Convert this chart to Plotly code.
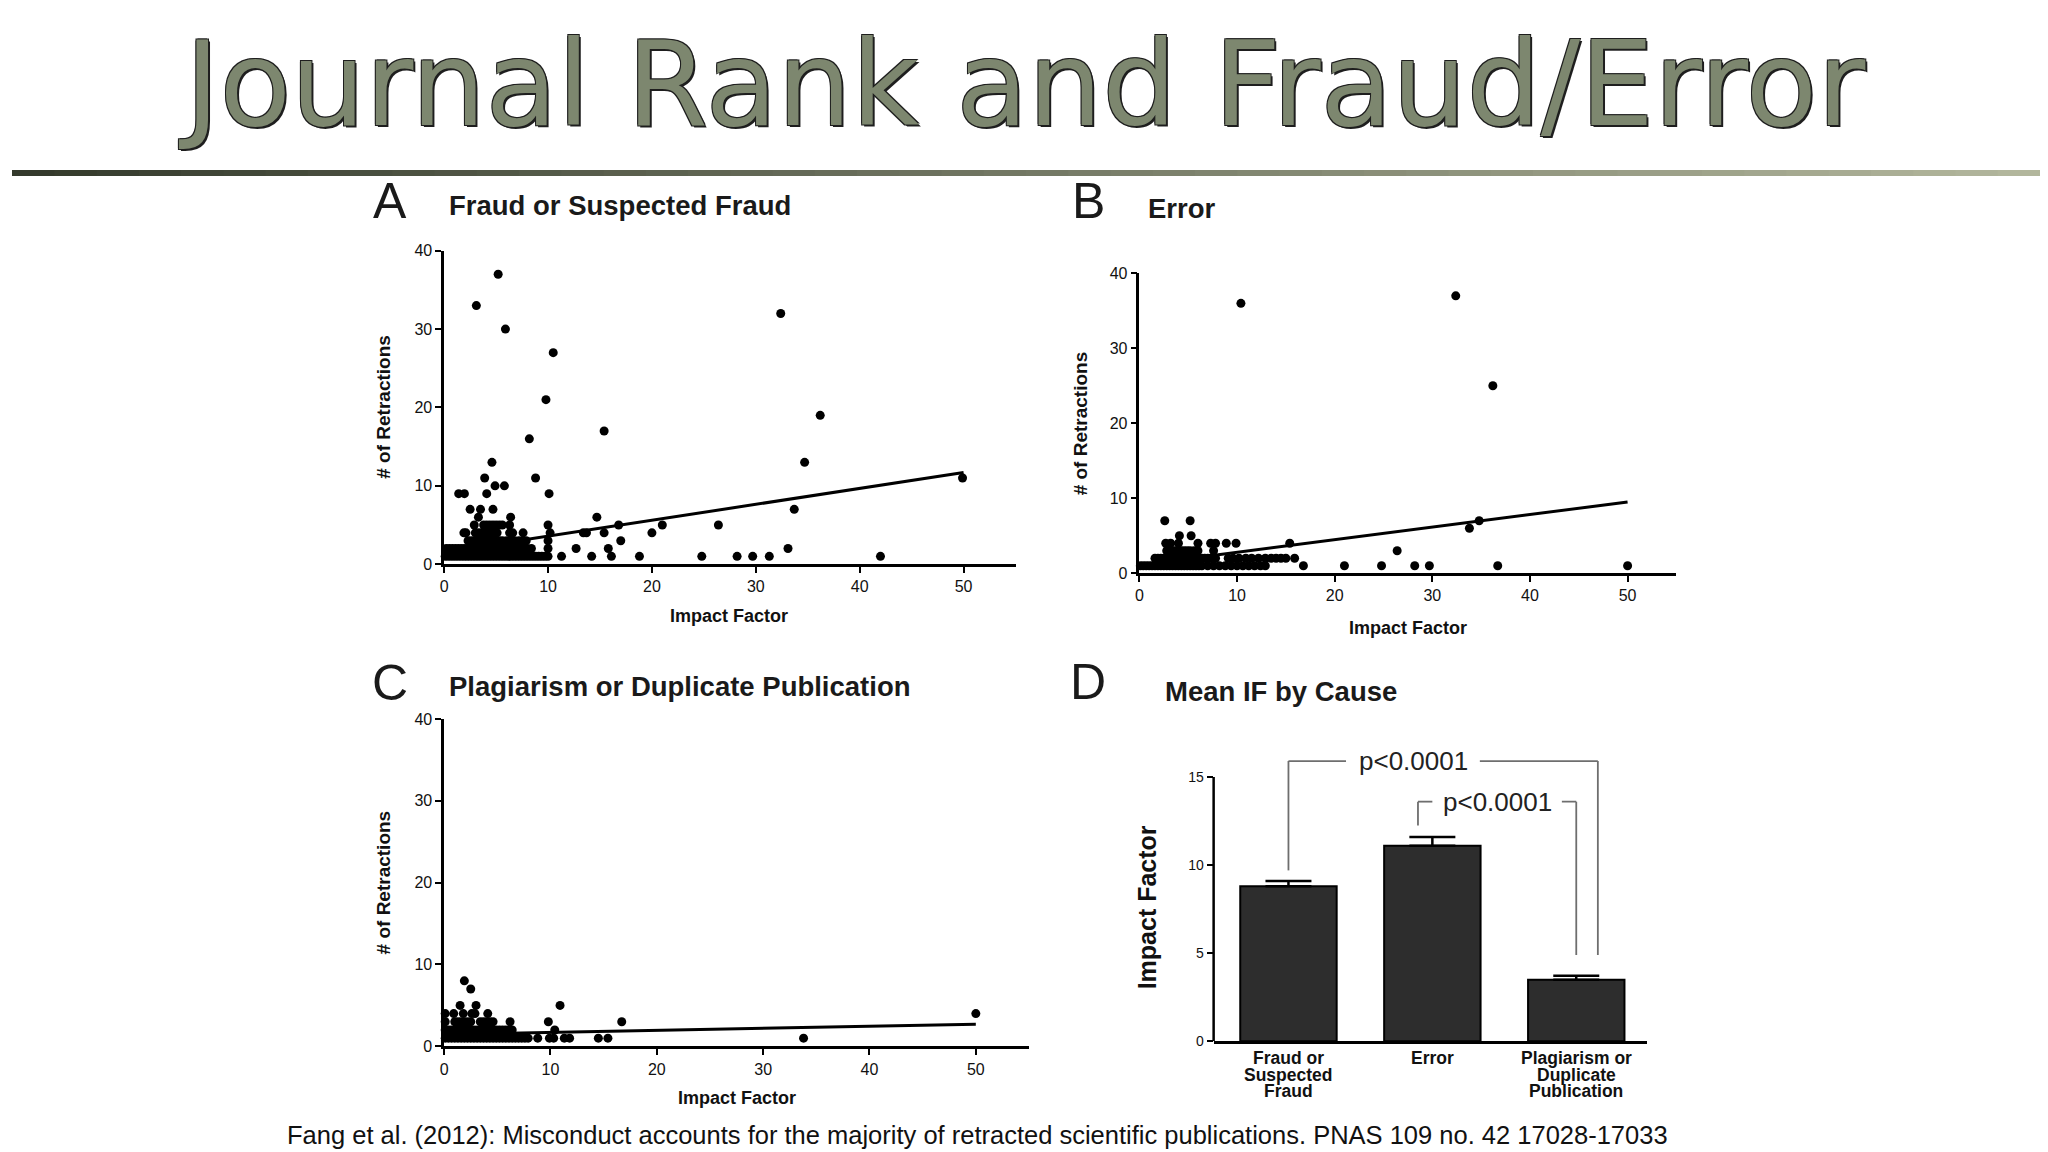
import plotly.graph_objects as go

# the page sits inside an 8px body margin; vertically the capture comes out a bit squeezed,
# so positions below are given in window pixels and converted here
W, H = 2032, 1152
OX = 8
SY, OY = 0.987, 14


def px(x):
    return (x - OX) / W


def py(y):
    return 1 - (y / SY - OY) / H


# ---- data ----
if_ticks = [0, 10, 20, 30, 40, 50]
retr_ticks = [0, 10, 20, 30, 40]

# A: fraud or suspected fraud  (rows of impact factors per retraction count)
fraud_counts = [1, 2, 3, 4, 5, 6, 7, 9, 10, 11, 13, 16, 17, 19, 21, 27, 30, 32, 33, 37]
fraud_if = [
    [0.1, 0.4, 0.7, 1.0, 1.3, 1.6, 1.9, 2.2, 2.5, 2.8, 3.1, 3.4, 3.7, 4.0, 4.3, 4.6, 4.9, 5.2,
     5.5, 5.8, 6.1, 6.4, 6.7, 7.0, 7.3, 7.6, 7.9, 8.2, 8.5, 8.8, 9.1, 9.4, 9.7, 10.0,
     11.3, 14.2, 16.1, 18.8, 24.8, 28.2, 29.7, 31.3, 42.0],
    [0.2, 0.5, 0.8, 1.1, 1.4, 1.7, 2.0, 2.3, 2.6, 2.9, 3.2, 3.5, 3.8, 4.1, 4.4, 4.7, 5.0, 5.3,
     5.6, 5.9, 6.2, 6.5, 6.8, 7.1, 7.4, 7.7, 8.0, 8.4, 10.0, 12.7, 15.8, 33.1],
    [2.3, 2.6, 2.9, 3.2, 3.5, 3.8, 4.1, 4.4, 4.7, 5.0, 5.3, 5.6, 6.0, 6.4, 6.8, 7.2, 7.6, 7.9,
     10.0, 17.0],
    [1.9, 2.1, 3.0, 3.3, 3.6, 3.9, 4.2, 4.5, 4.8, 5.1, 6.3, 6.6, 7.6, 10.2, 13.4, 13.7, 15.4, 20.0],
    [2.9, 3.8, 4.1, 4.4, 4.7, 5.0, 5.3, 5.6, 6.3, 10.0, 16.8, 21.0, 26.4],
    [3.3, 6.4, 14.7],
    [2.5, 3.5, 4.7, 33.7],
    [1.4, 1.95, 4.1, 10.1],
    [4.9, 5.8],
    [3.9, 8.8, 49.9],
    [4.6, 34.7],
    [8.2],
    [15.4],
    [36.2],
    [9.8],
    [10.5],
    [5.9],
    [32.4],
    [3.1],
    [5.2],
]
fraud_fit = [1.55, 11.7]

# B: error
error_counts = [1, 2, 3, 4, 5, 6, 7, 25, 36, 37]
error_if = [
    [0.1, 0.4, 0.7, 1.0, 1.3, 1.6, 1.9, 2.2, 2.5, 2.8, 3.1, 3.4, 3.7, 4.0, 4.3, 4.6, 4.9, 5.2,
     5.5, 5.8, 6.1, 6.4, 7.0, 7.6, 8.2, 8.8, 9.4, 10.0, 10.6, 11.2, 11.8, 12.4, 12.9,
     16.8, 21.0, 24.8, 28.2, 29.7, 36.7, 50.0],
    [1.6, 1.9, 2.2, 2.5, 2.8, 3.1, 3.4, 3.7, 4.0, 4.3, 4.6, 4.9, 5.2, 5.5, 5.8, 6.1, 6.4, 6.7,
     7.0, 7.3, 7.6, 7.8, 9.1, 9.6, 10.2, 10.9, 11.5, 12.2, 12.9, 13.5, 14.0, 14.5, 15.0, 15.9],
    [2.8, 3.1, 3.4, 3.7, 4.0, 4.3, 4.6, 4.9, 5.2, 5.6, 6.0, 7.6, 26.4],
    [2.7, 3.2, 4.0, 6.0, 7.3, 7.8, 8.9, 9.9, 15.4],
    [4.1, 5.3],
    [33.8],
    [2.6, 5.2, 34.8],
    [36.2],
    [10.4],
    [32.4],
]
error_fit = [1.1, 9.5]

# C: plagiarism or duplicate publication
plag_counts = [1, 2, 3, 4, 5, 7, 8]
plag_if = [
    [0.1, 0.4, 0.7, 1.0, 1.3, 1.6, 1.9, 2.2, 2.5, 2.8, 3.1, 3.4, 3.7, 4.0, 4.3, 4.6, 4.9, 5.2,
     5.5, 5.8, 6.1, 6.4, 6.7, 7.0, 7.3, 7.6, 7.9, 8.8, 9.9, 10.3, 11.3, 11.8, 14.5, 15.4, 33.8],
    [0.1, 0.4, 0.7, 1.0, 1.3, 1.6, 1.9, 2.2, 2.5, 2.8, 3.1, 3.4, 3.7, 4.0, 4.3, 4.6, 4.9, 5.2,
     5.5, 5.8, 6.1, 6.4, 10.4],
    [0.1, 1.0, 1.3, 1.6, 1.9, 2.2, 2.5, 3.4, 3.7, 4.0, 4.3, 4.6, 6.2, 9.8, 16.7],
    [0.1, 0.9, 1.8, 2.6, 2.9, 4.1, 50.0],
    [1.5, 3.0, 10.9],
    [2.5],
    [1.9],
]
plag_fit = [1.45, 2.7]
fit_if = [0, 50]

# D: mean IF by cause
causes = ["Fraud", "Error", "Plagiarism"]
cause_lines = [["Fraud or", "Suspected", "Fraud"], ["Error"],
               ["Plagiarism or", "Duplicate", "Publication"]]
mean_if = [8.8, 11.1, 3.5]
sem_if = [0.3, 0.5, 0.22]
if_bar_ticks = [0, 5, 10, 15]


def expand(counts, rows):
    xs, ys = [], []
    for c, row in zip(counts, rows):
        xs += row
        ys += [c] * len(row)
    return xs, ys


FONT = "Liberation Sans"
fig = go.Figure()

panels = [
    ("", fraud_counts, fraud_if, fraud_fit, (441, 1013.5), (563, 249)),
    ("2", error_counts, error_if, error_fit, (1137.6, 1675.7), (572, 271.6)),
    ("3", plag_counts, plag_if, plag_fit, (441, 1027), (1046, 718)),
]

for n, counts, rows, fit, (xa, xb), (ya, yb) in panels:
    xs, ys = expand(counts, rows)
    fig.add_trace(go.Scatter(x=xs, y=ys, mode="markers", xaxis="x" + n, yaxis="y" + n,
                             marker=dict(size=9, color="black"), cliponaxis=False,
                             showlegend=False))
    fig.add_trace(go.Scatter(x=fit_if, y=fit, mode="lines", xaxis="x" + n, yaxis="y" + n,
                             line=dict(color="black", width=3), cliponaxis=False,
                             showlegend=False))
    fig.layout["xaxis" + n] = dict(
        domain=[px(xa), px(xb)], range=[0, 55], anchor="y" + n, tickvals=if_ticks,
        ticks="outside", ticklen=6, tickwidth=2, tickcolor="black",
        showline=True, linewidth=3, linecolor="black", showgrid=False, zeroline=False,
        tickfont=dict(family=FONT, size=16, color="#111"))
    fig.layout["yaxis" + n] = dict(
        domain=[py(ya), py(yb)], range=[0, 40], anchor="x" + n, tickvals=retr_ticks,
        ticks="outside", ticklen=6, tickwidth=2, tickcolor="black",
        showline=True, linewidth=2.5, linecolor="black", showgrid=False, zeroline=False,
        tickfont=dict(family=FONT, size=16, color="#111"))

# bar chart
fig.add_trace(go.Bar(x=causes, y=mean_if, xaxis="x4", yaxis="y4", width=0.67,
                     marker=dict(color="#2d2d2d", line=dict(color="black", width=2)),
                     error_y=dict(type="data", symmetric=False, array=sem_if,
                                  arrayminus=[0, 0, 0], color="black", thickness=2.5,
                                  width=23),
                     showlegend=False))
fig.layout.xaxis4 = dict(domain=[px(1212), px(1646)], range=[-0.52, 2.49], anchor="y4",
                         showline=True, linewidth=3, linecolor="black", ticks="",
                         showgrid=False, showticklabels=False)
fig.layout.yaxis4 = dict(domain=[py(1041), py(732)], range=[0, 17.5], anchor="x4",
                         tickvals=if_bar_ticks, ticks="outside", ticklen=6, tickwidth=2,
                         tickcolor="black", showline=False, showgrid=False, zeroline=False,
                         tickfont=dict(family=FONT, size=14, color="#111"))

shapes = []
# y axis line of the bar chart stops at 15
shapes.append(dict(type="line", xref="x4 domain", yref="y4", x0=0, x1=0, y0=0, y1=15,
                   line=dict(color="black", width=2.5)))

# significance brackets: (left cat, right cat, top, left foot, right foot, gap start, gap end)
brackets = [
    (0.0, 2.15, 15.9, 9.7, 4.9, 0.40, 1.33),
    (0.9, 2.0, 13.6, 12.25, 4.9, 1.0, 1.9),
]
p_text = "p<0.0001"
bcol = "#6e6e6e"
for xl, xr, top, fl, fr, g0, g1 in brackets:
    for x0, y0, x1, y1 in [(xl, fl, xl, top), (xl, top, g0, top), (g1, top, xr, top),
                           (xr, top, xr, fr)]:
        shapes.append(dict(type="line", xref="x4", yref="y4", x0=x0, y0=y0, x1=x1, y1=y1,
                           line=dict(color=bcol, width=1.8)))

# gradient rule under the title
steps = 48
c0, c1 = (52, 58, 44), (178, 182, 156)
for i in range(steps):
    t = i / (steps - 1)
    col = "rgb(%d,%d,%d)" % tuple(round(a + (b - a) * t) for a, b in zip(c0, c1))
    shapes.append(dict(type="rect", xref="paper", yref="paper", x0=i / steps,
                       x1=(i + 1) / steps + 0.001, y0=py(174), y1=py(168),
                       line=dict(width=0), fillcolor=col, layer="below"))

annotations = []


def note(text, x, y, size, bold=False, family=FONT, angle=0, xanchor="center", color="#111",
         **kw):
    annotations.append(dict(text="<b>%s</b>" % text if bold else text, x=px(x), y=py(y),
                            xref="paper", yref="paper", showarrow=False, xanchor=xanchor,
                            yanchor="middle", textangle=angle,
                            font=dict(family=family, size=size, color=color, **kw)))


note("Journal Rank and Fraud/Error", 1020, 82, 117, family="DejaVu Sans", color="#7d876f",
     shadow="2px 2px 0 #1e1e1e, -1px -1px 0 #1e1e1e, 1px -1px 0 #1e1e1e, -1px 1px 0 #1e1e1e")

for letter, lx, ly, title, tx, ty in [
    ("A", 386.6, 199, "Fraud or Suspected Fraud", 444, 203.5),
    ("B", 1086.6, 199, "Error", 1144, 206.5),
    ("C", 386.6, 682, "Plagiarism or Duplicate Publication", 444, 686),
    ("D", 1086.6, 681, "Mean IF by Cause", 1161, 691),
]:
    note(letter, lx, ly, 50, color="#1a1a1a")
    note(title, tx, ty, 27.5, bold=True, xanchor="left", color="#1a1a1a")

for x, y in [(726, 615), (1406.6, 627), (734, 1098)]:
    note("Impact Factor", x, y, 18, bold=True)
for x, y in [(380, 405), (1079, 422), (380, 881.5)]:
    note("# of Retractions", x, y, 19, bold=True, angle=-90)
note("Impact Factor", 1145, 907, 25, bold=True, angle=-90)

# category labels of the bar chart, one line each so they sit tight
for i, lines in enumerate(cause_lines):
    for j, line in enumerate(lines):
        annotations.append(dict(text="<b>%s</b>" % line, x=i, y=py(1058 + 16.3 * j),
                                xref="x4", yref="paper", showarrow=False, yanchor="middle",
                                font=dict(family=FONT, size=17.5, color="#111")))

for xc, top in [(0.87, 15.9), (1.45, 13.6)]:
    annotations.append(dict(text=p_text, x=xc, y=top, xref="x4", yref="y4", showarrow=False,
                            font=dict(family=FONT, size=26, color="#222")))

note("Fang et al. (2012): Misconduct accounts for the majority of retracted scientific "
     "publications. PNAS 109 no. 42 17028-17033", 975, 1135, 25.5)

fig.update_layout(width=W, height=H, margin=dict(l=0, r=0, t=0, b=0),
                  paper_bgcolor="white", plot_bgcolor="white",
                  shapes=shapes, annotations=annotations, showlegend=False)

fig.write_html("out.html")
